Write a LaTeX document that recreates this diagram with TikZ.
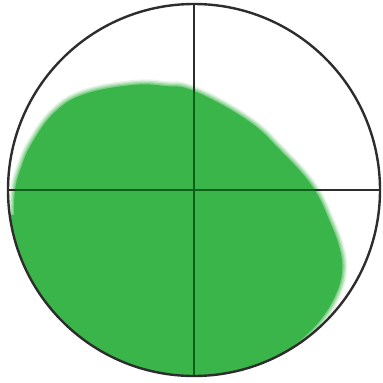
\documentclass[tikz,border=0pt]{standalone}
\definecolor{blobgreen}{RGB}{58,181,74}
\definecolor{ringgray}{RGB}{45,45,45}
\definecolor{linegreen}{RGB}{10,95,25}
\tikzset{
  ring/.style={draw=ringgray, line width=2.4pt},
  hair/.style={draw=ringgray, line width=2.2pt},
  hairgreen/.style={draw=linegreen, line width=2.4pt},
}
\begin{document}
\begin{tikzpicture}[x=1pt,y=-1pt]
\useasboundingbox (0,0) rectangle (383,383);
\fill[white] (0,0) rectangle (383,383);
\coordinate (c) at (194,190);
\def\R{186}
% green blob, clipped to circle, with soft edge
\begin{scope}
  \clip (c) circle (\R);
  \path[save path=\blobpath] plot[smooth, tension=0.7] coordinates {(14,215)(15,190)(21,168)(32,143)(55,112)(85,94)(133,85)(165,86)(194,91)(247,120)(280,150)(312,186)(330,222)(340,250)(342,272)(336,294)(322,318)(303,338)(285,352)} -- (290,400) -- (5,400) -- (5,215) -- cycle;
  \foreach \w/\o in {10/0.12,7.5/0.18,5/0.25,2.5/0.35}{
    \draw[use path=\blobpath, draw=blobgreen, line width=\w pt, opacity=\o, line join=round];
  }
  \fill[use path=\blobpath, fill=blobgreen];
\end{scope}
% crosshair
\path (c) ++(0,-\R) coordinate (top) (c) ++(0,\R) coordinate (bot)
      (c) ++(-\R,0) coordinate (lft) (c) ++(\R,0) coordinate (rgt);
\draw[hair] (top) -- (bot);
\draw[hair] (lft) -- (rgt);
\begin{scope}
  \clip[use path=\blobpath];
  \draw[hairgreen] (top) -- (bot);
  \draw[hairgreen] (lft) -- (rgt);
\end{scope}
\draw[ring] (c) circle (\R);
\end{tikzpicture}
\end{document}
